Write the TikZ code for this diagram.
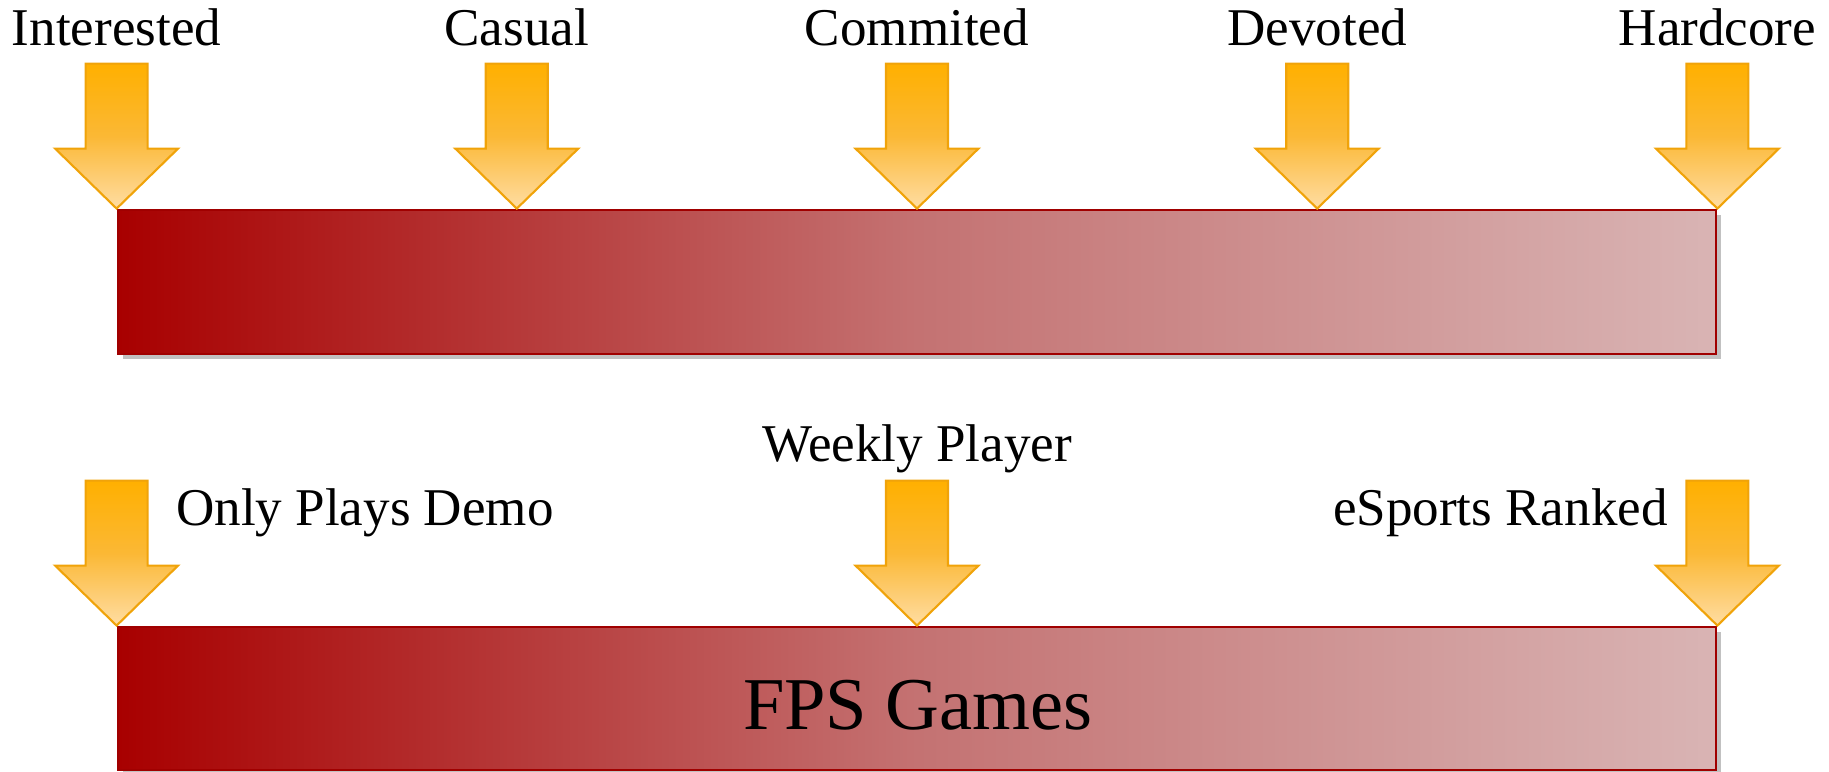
\documentclass[tikz,border=0pt]{standalone}
\usepackage{fontspec}
\setmainfont{Liberation Serif}
\usetikzlibrary{positioning, calc, shadows}

\begin{document}
\begin{tikzpicture}[
  font=\fontsize{15.1}{18}\selectfont,
  scalebar/.style={draw=barline, line width=0.8pt,
    left color=barleft, right color=barright, middle color=barmid,
    minimum width=15.98cm, minimum height=1.44cm, inner sep=0pt,
    drop shadow={shadow xshift=0.05cm, shadow yshift=-0.05cm,
                 opacity=0.35, fill=black!70}},
  droparrow/.style={draw=arrowline, line width=0.6pt, line join=miter,
    top color=arrowtop, bottom color=arrowbottom, middle color=arrowmid},
  steplabel/.style={inner sep=0pt, anchor=base},
  pics/pointer/.style={code={
    \draw[droparrow] (0,0) -- (0.615,0.60) -- (0.31,0.60) -- (0.31,1.45)
      -- (-0.31,1.45) -- (-0.31,0.60) -- (-0.615,0.60) -- cycle;
  }},
]
\useasboundingbox (0,0) rectangle (18.29,7.72);

\definecolor{barleft}{HTML}{A80000}
\definecolor{barmid}{HTML}{C47272}
\definecolor{barright}{HTML}{D9B4B4}
\definecolor{barline}{HTML}{A00000}
\definecolor{arrowtop}{HTML}{FFB000}
\definecolor{arrowmid}{HTML}{FBB835}
\definecolor{arrowbottom}{HTML}{FFDDA3}
\definecolor{arrowline}{HTML}{F0A30A}

% =====================================================================
% upper scale: five levels of commitment
% =====================================================================
\node[scalebar] (genbar) at (9.17,4.90) {};

\foreach \lab [count=\i from 0] in {Interested, Casual, Commited, Devoted, Hardcore} {
  \coordinate (gtip\i) at ($(genbar.north west)!\i/4!(genbar.north east)$);
  \pic at (gtip\i) {pointer};
  \node[steplabel] (glab\i) at ($(gtip\i)+(0,1.63)$) {\lab};
}

% =====================================================================
% lower scale: FPS games
% =====================================================================
\node[scalebar, minimum height=1.43cm] (fpsbar) at (9.17,0.735) {};
\node[font=\fontsize{21.2}{25}\selectfont, inner sep=0pt] (fpslab)
  at ($(fpsbar.center)+(0.01,-0.07)$) {FPS Games};

\foreach \i in {0,1,2} {
  \coordinate (ftip\i) at ($(fpsbar.north west)!\i/2!(fpsbar.north east)$);
  \pic at (ftip\i) {pointer};
}
\node[steplabel, anchor=base west] (flab0) at ($(ftip0)+(0.59,1.00)$) {Only Plays Demo};
\node[steplabel] (flab1) at ($(ftip1)+(0,1.64)$) {Weekly Player};
\node[steplabel, anchor=base east] (flab2) at ($(ftip2)+(-0.49,1.00)$) {eSports Ranked};

\end{tikzpicture}
\end{document}
